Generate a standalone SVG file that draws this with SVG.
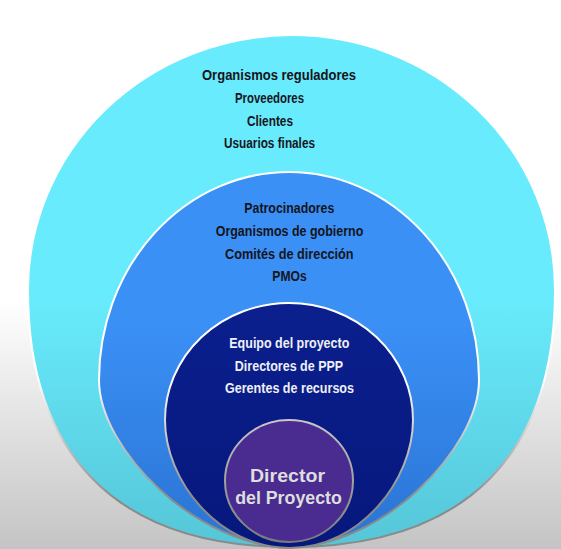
<svg xmlns="http://www.w3.org/2000/svg" width="561" height="549" viewBox="0 0 561 549">
  <defs>
    <linearGradient id="bg" x1="0" y1="0" x2="0" y2="549" gradientUnits="userSpaceOnUse">
      <stop offset="0" stop-color="#ffffff"/>
      <stop offset="0.55" stop-color="#ffffff"/>
      <stop offset="1" stop-color="#c4c4c4"/>
    </linearGradient>
    <linearGradient id="cyanFill" x1="0" y1="300" x2="0" y2="545" gradientUnits="userSpaceOnUse">
      <stop offset="0" stop-color="#68ebfc"/>
      <stop offset="1" stop-color="#55c6d8"/>
    </linearGradient>
    <linearGradient id="blueFill" x1="0" y1="320" x2="0" y2="545" gradientUnits="userSpaceOnUse">
      <stop offset="0" stop-color="#3b90f6"/>
      <stop offset="1" stop-color="#2a74d4"/>
    </linearGradient>
    <linearGradient id="navyFill" x1="0" y1="303" x2="0" y2="548" gradientUnits="userSpaceOnUse">
      <stop offset="0" stop-color="#0b1f8e"/>
      <stop offset="1" stop-color="#06187c"/>
    </linearGradient>
    <linearGradient id="rim" x1="0" y1="380" x2="0" y2="500" gradientUnits="userSpaceOnUse">
      <stop offset="0" stop-color="#ffffff"/>
      <stop offset="1" stop-color="#8a8a8a"/>
    </linearGradient>
    <linearGradient id="rimCore" x1="0" y1="420" x2="0" y2="542" gradientUnits="userSpaceOnUse">
      <stop offset="0" stop-color="#c8c8c8"/>
      <stop offset="1" stop-color="#7a7a7a"/>
    </linearGradient>
    <style>
      .ring { stroke: url(#rim); stroke-width: 2; }
      .lbl { font-family: "Liberation Sans", Arial, sans-serif; font-weight: bold; text-anchor: middle; }
      .dark { fill: #15151c; font-size: 14.5px; }
      .light { fill: #eef0f6; font-size: 14.5px; }
      .core { fill: #dedede; font-size: 19px; }
    </style>
  </defs>

  <rect x="0" y="0" width="561" height="549" fill="url(#bg)"/>

  <!-- outer ring: external stakeholders -->
  <g id="externos">
    <path class="ring" fill="url(#cyanFill)" d="M28,290 A263.5,255 0 0 1 555,290 C555,450 470,547 290,547 C112,547 28,450 28,290 Z"/>
    <text class="lbl dark" x="279" y="80" font-size="15" textLength="154" lengthAdjust="spacingAndGlyphs">Organismos reguladores</text>
    <text class="lbl dark" x="269.5" y="103" textLength="69" lengthAdjust="spacingAndGlyphs">Proveedores</text>
    <text class="lbl dark" x="270" y="125.5" textLength="46" lengthAdjust="spacingAndGlyphs">Clientes</text>
    <text class="lbl dark" x="269.5" y="148" textLength="91" lengthAdjust="spacingAndGlyphs">Usuarios finales</text>
  </g>

  <!-- second ring: organisation -->
  <g id="organizacion">
    <path class="ring" fill="url(#blueFill)" d="M99,380 A190,208 0 0 1 479,380 C479,450 380,547 290,547 C198,547 99,450 99,380 Z"/>
    <text class="lbl dark" x="289.3" y="213" textLength="90" lengthAdjust="spacingAndGlyphs">Patrocinadores</text>
    <text class="lbl dark" x="289.5" y="236" textLength="147.6" lengthAdjust="spacingAndGlyphs">Organismos de gobierno</text>
    <text class="lbl dark" x="289.3" y="258.5" textLength="128.7" lengthAdjust="spacingAndGlyphs">Comités de dirección</text>
    <text class="lbl dark" x="289.5" y="280.7" textLength="34.4" lengthAdjust="spacingAndGlyphs">PMOs</text>
  </g>

  <!-- third ring: project team -->
  <g id="equipo">
    <path class="ring" fill="url(#navyFill)" d="M165,420 A124,117 0 0 1 413,420 C413,480 360,548 290,548 C218,548 165,480 165,420 Z"/>
    <text class="lbl light" x="289.3" y="347.7" textLength="120" lengthAdjust="spacingAndGlyphs">Equipo del proyecto</text>
    <text class="lbl light" x="289" y="370.7" textLength="108.3" lengthAdjust="spacingAndGlyphs">Directores de PPP</text>
    <text class="lbl light" x="289.5" y="393.3" textLength="129" lengthAdjust="spacingAndGlyphs">Gerentes de recursos</text>
  </g>

  <!-- core: project manager -->
  <g id="director">
    <ellipse cx="289" cy="481" rx="64" ry="61" fill="#4a2c90" stroke="url(#rimCore)" stroke-width="2"/>
    <text class="lbl core" x="287.5" y="482.3" textLength="75" lengthAdjust="spacingAndGlyphs">Director</text>
    <text class="lbl core" x="288.5" y="504" textLength="106.7" lengthAdjust="spacingAndGlyphs">del Proyecto</text>
  </g>
</svg>
